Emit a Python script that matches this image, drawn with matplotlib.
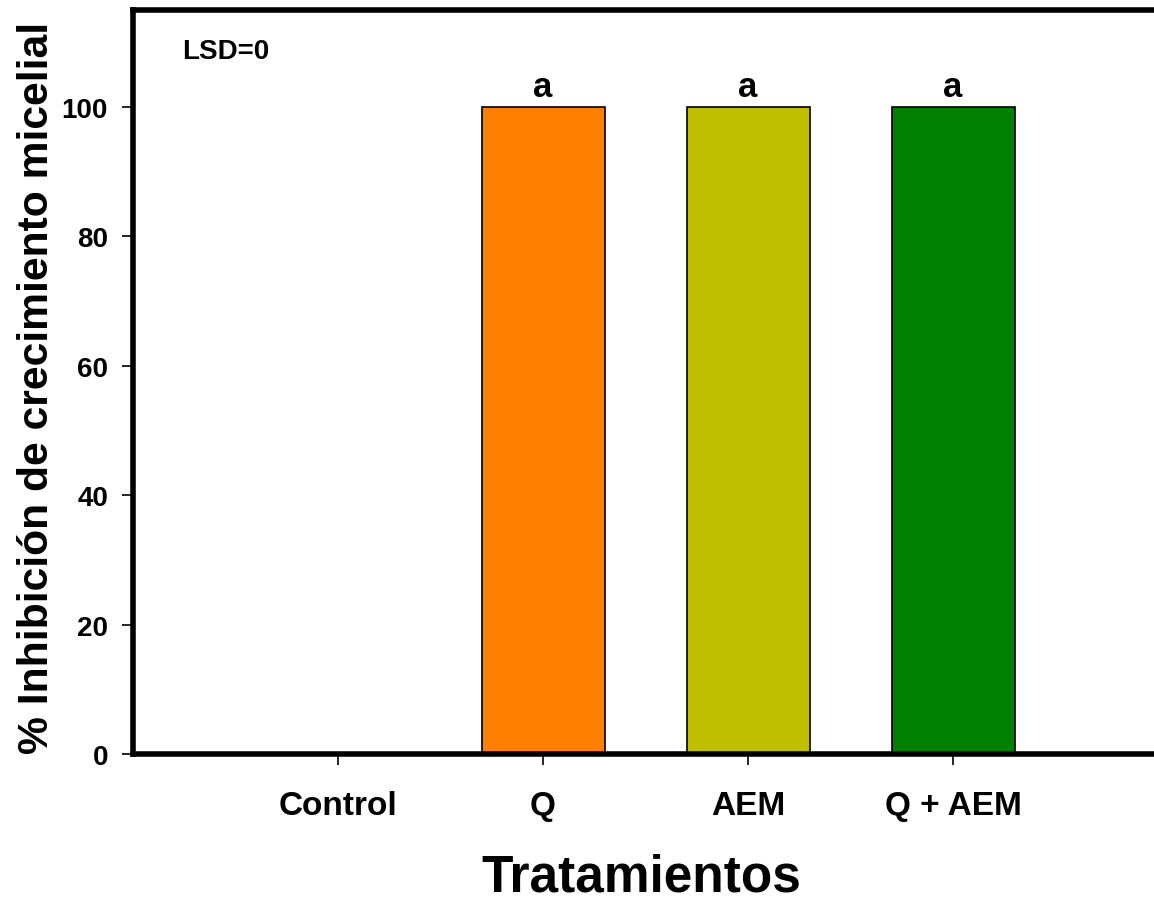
import numpy as np
import matplotlib.pyplot as plt

# treatments and % inhibition of mycelial growth
tratamientos = ["Control", "Q", "AEM", "Q + AEM"]
inhibicion = [0, 100, 100, 100]
letras = ["", "a", "a", "a"]
colores = ["#FFFFFF", "#FF7F00", "#BFBF00", "#007F00"]
y_ticks = [0, 20, 40, 60, 80, 100]

plt.rcParams['font.family'] = ['Liberation Sans', 'DejaVu Sans']
plt.rcParams['font.weight'] = 'bold'

fig = plt.figure(figsize=(11.54, 9.04), dpi=100)
ax = fig.add_axes([133/1154, 1 - 755/904, 1025/1154, 744/904])

x = np.arange(1, len(tratamientos) + 1)
ax.bar(x, inhibicion, width=0.6, color=colores, edgecolor="black", linewidth=1.2, zorder=2)

# significance letters above bars
for xi, v, l in zip(x, inhibicion, letras):
    if l:
        ax.text(xi, v + 1.7, l, ha="center", va="baseline", fontsize=25, fontweight="bold")

ax.text(0.24, 108.7, "LSD=0", ha="left", va="center", fontsize=20, fontweight="bold")

ax.set_xlim(0, 5)
ax.set_ylim(0, 115)
ax.set_xticks(x)
ax.set_xticklabels(tratamientos)
ax.set_yticks(y_ticks)

for s in ["left", "bottom", "top"]:
    ax.spines[s].set_linewidth(4)
ax.spines["right"].set_visible(False)

ax.tick_params(axis="both", direction="out", length=8, width=1.2)
ax.tick_params(axis="y", labelsize=20, pad=10)
ax.tick_params(axis="x", labelsize=24, pad=18)
for lab in ax.get_xticklabels() + ax.get_yticklabels():
    lab.set_fontweight("bold")

ax.set_ylabel("% Inhibición de crecimiento micelial", fontsize=30.7, fontweight="bold")
ax.yaxis.set_label_coords(-0.074, 0.493)
fig.text(641 / 1154, 1 - 892 / 904, "Tratamientos", ha="center", va="baseline",
         fontsize=37, fontweight="bold")

fig.savefig("out.png", dpi=100)
